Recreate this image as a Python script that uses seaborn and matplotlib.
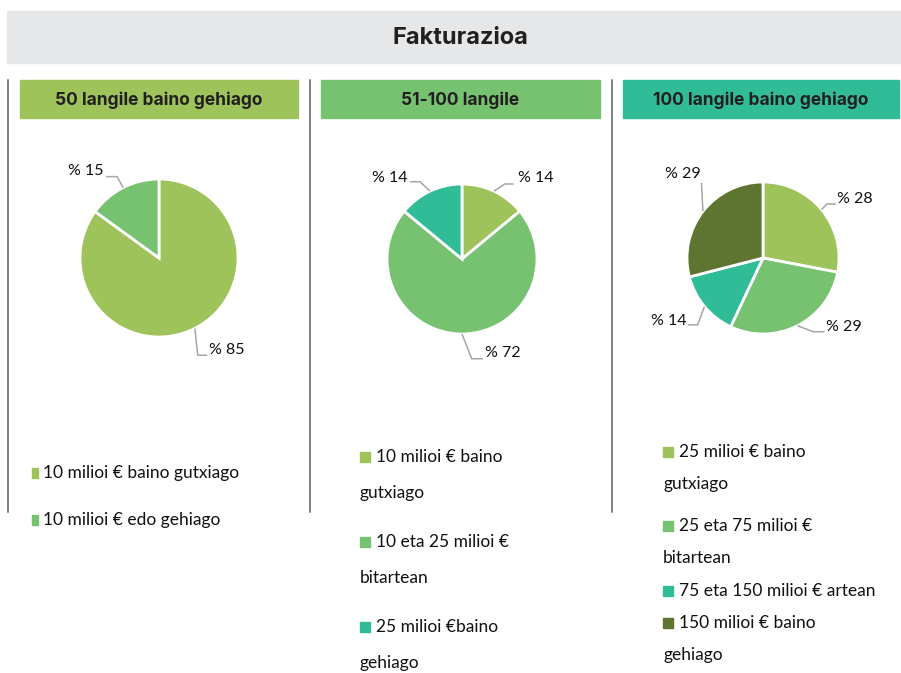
import numpy as np
import matplotlib
matplotlib.use("Agg")
import matplotlib.pyplot as plt
import seaborn as sns
from matplotlib.patches import Rectangle

sns.set_theme(style="white")
plt.rcParams["font.family"] = ["Lato", "DejaVu Sans"]

# data
title = "Fakturazioa"
panel_titles = ["50 langile baino gehiago", "51-100 langile", "100 langile baino gehiago"]
values_50 = [85, 15]
values_51_100 = [14, 72, 14]
values_100 = [28, 29, 14, 29]
labels_50 = ["10 milioi € baino gutxiago", "10 milioi € edo gehiago"]
labels_51_100 = ["10 milioi € baino\ngutxiago", "10 eta 25 milioi €\nbitartean", "25 milioi €baino\ngehiago"]
labels_100 = ["25 milioi € baino\ngutxiago", "25 eta 75 milioi €\nbitartean",
              "75 eta 150 milioi € artean", "150 milioi € baino\ngehiago"]

# colours
LIGHT, MID, TEAL, DARK = "#9DC35A", "#76C271", "#31BC98", "#5E7532"
colors_50 = [LIGHT, MID]
colors_51_100 = [LIGHT, MID, TEAL]
colors_100 = [LIGHT, MID, TEAL, DARK]
header_colors = [LIGHT, MID, TEAL]

W, H = 901, 673
fig = plt.figure(figsize=(W / 100, H / 100), dpi=100)


def fx(px):
    return px / W


def fy(py):
    return 1 - py / H


# title banner
fig.patches.append(Rectangle((fx(7), fy(63)), fx(894), 52 / H, transform=fig.transFigure,
                             color="#E6E7E8", zorder=0))
fig.text(fx(460), fy(38), title, ha="center", va="center", fontsize=17,
         fontweight="bold", color="#231F20", family=["Inter", "DejaVu Sans"])

# panel headers and separators
header_x = [(20, 298), (321, 600), (623, 899)]
for (x0, x1), name, col in zip(header_x, panel_titles, header_colors):
    fig.patches.append(Rectangle((fx(x0), fy(118)), fx(x1 - x0), 38 / H,
                                 transform=fig.transFigure, color=col, zorder=0))
    fig.text(fx((x0 + x1) / 2), fy(100), name, ha="center", va="center", fontsize=12.5,
             fontweight="bold", color="#231F20", family=["Inter", "DejaVu Sans"])
for sx in [8, 310, 612]:
    fig.lines.append(plt.Line2D([fx(sx), fx(sx)], [fy(80), fy(512)], transform=fig.transFigure,
                                color="#7F7F7F", lw=1.4))

# pie layout: centre (px), radius (px), label text pos / elbow / anchor in radius units
pies = [
    dict(values=values_50, colors=colors_50, cx=159, cy=258, r=79,
         lab=[((0.63, -1.17), "left", (0.49, -1.23), (0.61, -1.23)),
              ((-0.70, 1.10), "right", (-0.53, 1.03), (-0.67, 1.03))]),
    dict(values=values_51_100, colors=colors_51_100, cx=462, cy=259, r=75,
         lab=[((0.74, 1.08), "left", (0.57, 1.00), (0.69, 1.00)),
              ((0.31, -1.25), "left", (0.13, -1.33), (0.28, -1.33)),
              ((-0.72, 1.08), "right", (-0.56, 1.03), (-0.69, 1.03))]),
    dict(values=values_100, colors=colors_100, cx=763, cy=258, r=76,
         lab=[((0.98, 0.78), "left", (0.84, 0.71), (0.96, 0.71)),
              ((0.83, -0.91), "left", (0.66, -0.97), (0.81, -0.97)),
              ((-1.01, -0.83), "right", (-0.86, -0.88), (-0.99, -0.88)),
              ((-0.82, 1.10), "right", (-0.81, 0.99), (-0.81, 0.99))]),
]

for p in pies:
    half = 2.0
    size = 2 * half * p["r"]
    ax = fig.add_axes([fx(p["cx"] - size / 2), fy(p["cy"] + size / 2), size / W, size / H])
    vals = np.array(p["values"], dtype=float)
    ax.pie(vals, colors=p["colors"], startangle=90, counterclock=False, radius=1,
           wedgeprops=dict(edgecolor="white", linewidth=2))
    ax.set_xlim(-half, half)
    ax.set_ylim(-half, half)
    ax.set_aspect("equal")
    ax.axis("off")
    cum = np.cumsum(vals) - vals / 2
    mids = np.deg2rad(90 - cum / vals.sum() * 360)
    for v, m, (tpos, ha, elbow, anchor) in zip(vals, mids, p["lab"]):
        edge = (np.cos(m), np.sin(m))
        ax.plot([edge[0], elbow[0], anchor[0]], [edge[1], elbow[1], anchor[1]],
                color="#A6A6A6", lw=1.1, solid_capstyle="butt")
        ax.text(tpos[0], tpos[1], f"% {v:.0f}", ha=ha, va="center", fontsize=11.5,
                color="#111111")

# legends: marker x / width, text x, first line y, line step, extra gap after each item
legends = [
    dict(labels=labels_50, colors=colors_50, mx=32, mw=6, tx=43, y0=473, step=47, gaps=[0, 0]),
    dict(labels=labels_51_100, colors=colors_51_100, mx=360, mw=10, tx=376, y0=457, step=36,
         gaps=[13, 13, 0]),
    dict(labels=labels_100, colors=colors_100, mx=663, mw=10, tx=679, y0=452, step=32,
         gaps=[10, 1, 0, 0]),
]
for lg in legends:
    y = lg["y0"]
    for lab, col, gap in zip(lg["labels"], lg["colors"], lg["gaps"]):
        lines = lab.split("\n")
        fig.patches.append(Rectangle((fx(lg["mx"]), fy(y + 5)), lg["mw"] / W, 10 / H,
                                     transform=fig.transFigure, color=col))
        for i, line in enumerate(lines):
            fig.text(fx(lg["tx"] if i == 0 else lg["mx"]), fy(y), line, ha="left",
                     va="center", fontsize=12.5, color="#111111")
            y += lg["step"]
        y += gap

fig.savefig("out.png", dpi=100)
